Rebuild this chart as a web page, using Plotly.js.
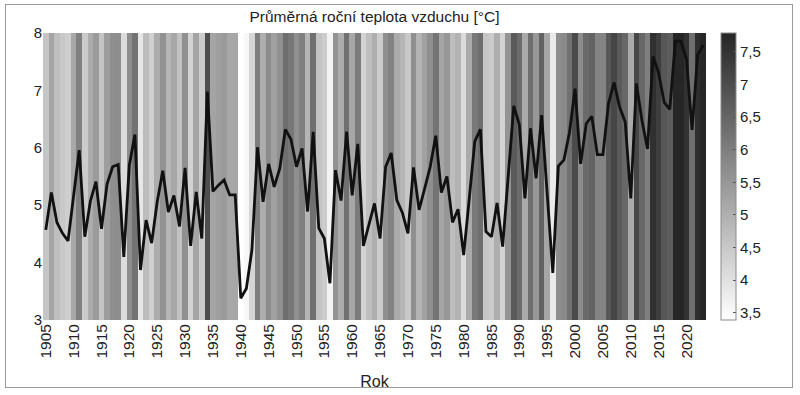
<!DOCTYPE html>
<html>
<head>
<meta charset="utf-8">
<script src="https://cdn.plot.ly/plotly-3.0.1.min.js"></script>
<style>
  html, body { margin: 0; padding: 0; background: #fff; }
  #wrap { position: relative; width: 800px; height: 395px; }
  #chart { width: 800px; height: 395px; }
  #frame { position: absolute; left: 5px; top: 4px; width: 786px; height: 382px; border: 1px solid #9a9a9a; pointer-events: none; }
</style>
</head>
<body>
<div id="wrap">
  <div id="chart"></div>
  <div id="frame"></div>
</div>
<script>
const years = [];
for (let y = 1905; y <= 2023; y++) years.push(y);

const temps = [
  4.57, 5.22, 4.70, 4.51, 4.38, 5.15, 5.96, 4.45, 5.07, 5.41,
  4.59, 5.37, 5.67, 5.71, 4.10, 5.70, 6.23, 3.87, 4.74, 4.34,
  5.06, 5.60, 4.88, 5.17, 4.63, 5.65, 4.29, 5.23, 4.42, 6.98,
  5.24, 5.35, 5.44, 5.18, 5.18, 3.38, 3.55, 4.22, 6.01, 5.06,
  5.72, 5.32, 5.64, 6.32, 6.15, 5.67, 5.99, 4.89, 6.28, 4.60,
  4.42, 3.64, 5.61, 5.08, 6.28, 5.17, 6.07, 4.29, 4.68, 5.03,
  4.42, 5.67, 5.91, 5.09, 4.87, 4.51, 5.66, 4.92, 5.29, 5.67,
  6.21, 5.22, 5.50, 4.70, 4.93, 4.13, 5.10, 6.11, 6.32, 4.54,
  4.45, 5.04, 4.28, 5.55, 6.73, 6.40, 5.12, 6.34, 5.47, 6.57,
  5.20, 3.82, 5.68, 5.79, 6.27, 7.03, 5.72, 6.42, 6.55, 5.88,
  5.88, 6.77, 7.14, 6.71, 6.45, 5.12, 7.12, 6.48, 5.98, 7.59,
  7.30, 6.79, 6.67, 7.86, 7.86, 7.54, 6.31, 7.62, 7.79
];

const xTicks = [1905, 1910, 1915, 1920, 1925, 1930, 1935, 1940, 1945, 1950,
  1955, 1960, 1965, 1970, 1975, 1980, 1985, 1990, 1995, 2000, 2005, 2010, 2015, 2020];
const yTicks = [3, 4, 5, 6, 7, 8];
const cbTicks = [3.5, 4, 4.5, 5, 5.5, 6, 6.5, 7, 7.5];
const yEdges = [3, 8];

const titleText = 'Průměrná roční teplota vzduchu [°C]';
const xTitle = 'Rok';

const font = 'Liberation Sans, Arial, Helvetica, sans-serif';

const heat = {
  type: 'heatmap',
  x: years,
  y: yEdges,
  z: [temps],
  zmin: 3.39,
  zmax: 7.79,
  colorscale: [[0, '#ffffff'], [1, '#262626']],
  hoverinfo: 'skip',
  colorbar: {
    x: 1.0226, xanchor: 'left', xpad: 0,
    y: 0.5, yanchor: 'middle', ypad: 0,
    len: 1, lenmode: 'fraction',
    thickness: 15,
    outlinecolor: '#8a8a8a', outlinewidth: 1,
    tickvals: cbTicks,
    ticks: 'inside', ticklen: 3, tickcolor: '#555',
    tickfont: { family: font, size: 15, color: '#222' }
  }
};

const line = {
  type: 'scatter',
  mode: 'lines',
  x: years,
  y: temps,
  line: { color: '#111111', width: 2.8 },
  hoverinfo: 'skip',
  showlegend: false
};

const layout = {
  width: 800, height: 395,
  margin: { l: 43, r: 94, t: 33, b: 75 },
  paper_bgcolor: '#ffffff',
  plot_bgcolor: '#ffffff',
  separators: ', ',
  font: { family: font, color: '#222' },
  showlegend: false,
  title: {
    text: titleText,
    x: 0.5, xref: 'paper', xanchor: 'center',
    y: 1 - 17 / 395, yref: 'container', yanchor: 'middle',
    font: { family: font, size: 15.5, color: '#222' }
  },
  xaxis: {
    range: [1904.5, 2023.5],
    tickvals: xTicks,
    ticktext: xTicks.map(String),
    tickangle: -90,
    tickfont: { family: font, size: 15.5, color: '#222' },
    ticks: '',
    showgrid: false, zeroline: false, showline: false,
    title: { text: xTitle, standoff: 18, font: { family: font, size: 16, color: '#222' } },
    automargin: false
  },
  yaxis: {
    range: [3, 8],
    tickvals: yTicks,
    tickfont: { family: font, size: 15, color: '#222' },
    ticks: '',
    showgrid: false, zeroline: false, showline: false,
    automargin: false
  }
};

Plotly.newPlot('chart', [heat, line], layout, { displayModeBar: false, staticPlot: true });
</script>
</body>
</html>
